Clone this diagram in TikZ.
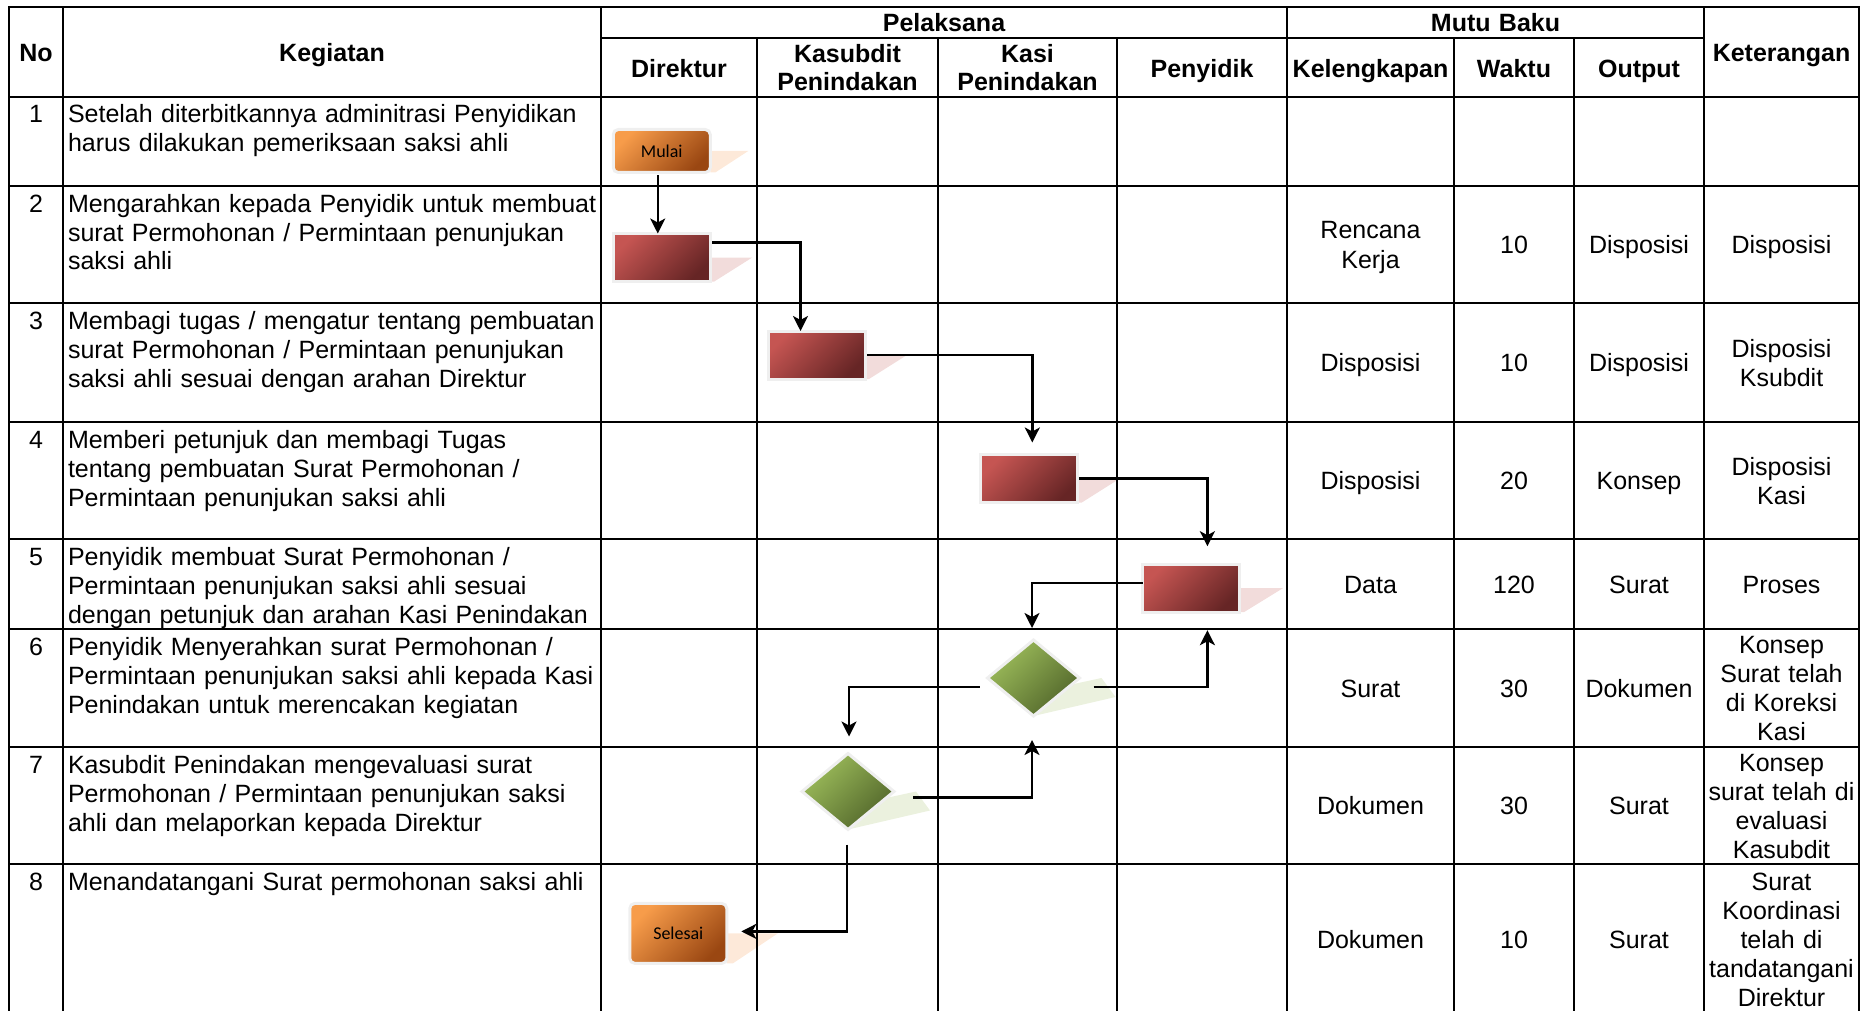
\documentclass[tikz,border=0pt]{standalone}
\usepackage{fontspec}
\setmainfont{Liberation Sans}
\newfontfamily\calibfont{Carlito}
\usetikzlibrary{shapes.geometric,arrows.meta,calc,backgrounds}
\definecolor{orL}{HTML}{F79C4A}
\definecolor{orD}{HTML}{9A4712}
\definecolor{rdL}{HTML}{C55552}
\definecolor{rdD}{HTML}{662525}
\definecolor{grL}{HTML}{9DBD5B}
\definecolor{grD}{HTML}{51652A}
\definecolor{shOr}{HTML}{FDE9D9}
\definecolor{shRd}{HTML}{F2DCDB}
\definecolor{shGr}{HTML}{EBF1DE}
\definecolor{rim}{HTML}{EFEFEF}
\begin{document}
\begin{tikzpicture}[x=1pt,y=-1pt,
  grid/.style={line width=2.2pt},
  body/.style={font=\fontsize{25}{29}\selectfont, inner sep=0pt},
  head/.style={font=\bfseries\fontsize{25}{27.5}\selectfont, inner sep=0pt,
    anchor=base, text width=170pt, align=center},
  cell/.style={body, anchor=base, text width=150pt, align=center},
  task/.style={body, anchor=base west, text width=540pt, align=left},
  num/.style={body, anchor=base},
  termbox/.style={rectangle, rounded corners=5pt, draw=rim, line width=3pt,
    top color=orL, bottom color=orD, shading angle=45, minimum width=97pt,
    inner sep=0pt, font=\calibfont\fontsize{18}{20}\selectfont},
  procbox/.style={rectangle, draw=rim, line width=3pt, top color=rdL,
    bottom color=rdD, shading angle=45, minimum width=97pt,
    minimum height=48pt, inner sep=0pt},
  decbox/.style={diamond, draw=rim, line width=3pt, top color=grL,
    bottom color=grD, shading angle=45, minimum width=92pt,
    minimum height=76pt, inner sep=0pt},
  arr/.style={line width=2.4pt, -{Stealth[length=15pt,width=15pt,inset=4pt]}},
  outer sep=0pt]
\useasboundingbox (0,0) rectangle (1871,1011);

% ---------- table grid ----------
\draw[grid] (9,1011) -- (9,7) -- (1859,7) -- (1859,1011);
\foreach \yy in {97,186,303,422,539,629,747,864}
  \draw[grid] (9,\yy) -- (1859,\yy);
\draw[grid] (601,38) -- (1704,38);
\foreach \xx in {63,601,1287,1704}
  \draw[grid] (\xx,7) -- (\xx,1011);
\foreach \xx in {757,938,1117,1454,1574}
  \draw[grid] (\xx,38) -- (\xx,1011);

% ---------- header ----------
\node[head] (hNo) at (36,61.5) {No};
\node[head] (hKeg) at (332,61.5) {Kegiatan};
\node[head] (hPel) at (944,31.5) {Pelaksana};
\node[head] (hMutu) at (1495.5,31.5) {Mutu Baku};
\node[head] (hKet) at (1781.5,61.5) {Keterangan};
\node[head] (hDir) at (679,77.5) {Direktur};
\node[head] (hKsb) at (847.5,62.7) {Kasubdit\\Penindakan};
\node[head] (hKasi) at (1027.5,62.7) {Kasi\\Penindakan};
\node[head] (hPen) at (1202,77.5) {Penyidik};
\node[head] (hKel) at (1370.5,77.5) {Kelengkapan};
\node[head] (hWak) at (1514,77.5) {Waktu};
\node[head] (hOut) at (1639,77.5) {Output};

% ---------- numbers and activities ----------
\node[num] (n1) at (36,123) {1};
\node[task] (a1) at (68,123) {Setelah diterbitkannya adminitrasi Penyidikan\\harus dilakukan pemeriksaan saksi ahli};
\node[num] (n2) at (36,212) {2};
\node[task] (a2) at (68,212) {Mengarahkan kepada Penyidik untuk membuat\\surat Permohonan / Permintaan penunjukan\\saksi ahli};
\node[num] (n3) at (36,329) {3};
\node[task] (a3) at (68,329) {Membagi tugas / mengatur tentang pembuatan\\surat Permohonan / Permintaan penunjukan\\saksi ahli sesuai dengan arahan Direktur};
\node[num] (n4) at (36,448) {4};
\node[task] (a4) at (68,448) {Memberi petunjuk dan membagi Tugas\\tentang pembuatan Surat Permohonan /\\Permintaan penunjukan saksi ahli};
\node[num] (n5) at (36,565) {5};
\node[task] (a5) at (68,565) {Penyidik membuat Surat Permohonan /\\Permintaan penunjukan saksi ahli sesuai\\dengan petunjuk dan arahan Kasi Penindakan};
\node[num] (n6) at (36,655) {6};
\node[task] (a6) at (68,655) {Penyidik Menyerahkan surat Permohonan /\\Permintaan penunjukan saksi ahli kepada Kasi\\Penindakan untuk merencakan kegiatan};
\node[num] (n7) at (36,773) {7};
\node[task] (a7) at (68,773) {Kasubdit Penindakan mengevaluasi surat\\Permohonan / Permintaan penunjukan saksi\\ahli dan melaporkan kepada Direktur};
\node[num] (n8) at (36,890) {8};
\node[task] (a8) at (68,890) {Menandatangani Surat permohonan saksi ahli};

% ---------- mutu baku & keterangan ----------
\node[cell] (k2) at (1370.5,239) {Rencana\\Kerja};
\node[cell] (w2) at (1514,253.5) {10};
\node[cell] (o2) at (1639,253.5) {Disposisi};
\node[cell] (t2) at (1781.5,253.5) {Disposisi};

\node[cell] (k3) at (1370.5,371.5) {Disposisi};
\node[cell] (w3) at (1514,371.5) {10};
\node[cell] (o3) at (1639,371.5) {Disposisi};
\node[cell] (t3) at (1781.5,357) {Disposisi\\Ksubdit};

\node[cell] (k4) at (1370.5,489.5) {Disposisi};
\node[cell] (w4) at (1514,489.5) {20};
\node[cell] (o4) at (1639,489.5) {Konsep};
\node[cell] (t4) at (1781.5,475) {Disposisi\\Kasi};

\node[cell] (k5) at (1370.5,593) {Data};
\node[cell] (w5) at (1514,593) {120};
\node[cell] (o5) at (1639,593) {Surat};
\node[cell] (t5) at (1781.5,593) {Proses};

\node[cell] (k6) at (1370.5,697) {Surat};
\node[cell] (w6) at (1514,697) {30};
\node[cell] (o6) at (1639,697) {Dokumen};
\node[cell] (t6) at (1781.5,653.5) {Konsep\\Surat telah\\di Koreksi\\Kasi};

\node[cell] (k7) at (1370.5,814.5) {Dokumen};
\node[cell] (w7) at (1514,814.5) {30};
\node[cell] (o7) at (1639,814.5) {Surat};
\node[cell] (t7) at (1781.5,771) {Konsep\\surat telah di\\evaluasi\\Kasubdit};

\node[cell] (k8) at (1370.5,948) {Dokumen};
\node[cell] (w8) at (1514,948) {10};
\node[cell] (o8) at (1639,948) {Surat};
\node[cell] (t8) at (1781.5,890) {Surat\\Koordinasi\\telah di\\tandatangani\\Direktur};

% ---------- flow shapes ----------
\node[termbox, minimum height=43pt] (mulai) at (661.75,151) {Mulai};
\node[procbox] (r2) at (661.75,257.5) {};
\node[procbox] (r3) at (816.5,355) {};
\node[procbox] (r4) at (1029.3,478.5) {};
\node[procbox] (r5) at (1191.4,588.2) {};
\node[decbox] (d6) at (1033.5,678) {};
\node[decbox] (d7) at (848,791.5) {};
\node[termbox, minimum height=60pt] (selesai) at (678.3,933.4) {Selesai};

% ---------- shadows ----------
\begin{pgfonlayer}{background}
\fill[shOr] (mulai.east) -- ++(38,0) -- ([xshift=5pt]mulai.south east) -- (mulai.south east) -- cycle;
\fill[shRd] (r2.east) -- ++(42,0) -- ([xshift=4pt]r2.south east) -- (r2.south east) -- cycle;
\fill[shRd] (r3.east) -- ++(42,0) -- ([xshift=4pt]r3.south east) -- (r3.south east) -- cycle;
\fill[shRd] (r4.east) -- ++(42,0) -- ([xshift=4pt]r4.south east) -- (r4.south east) -- cycle;
\fill[shRd] (r5.east) -- ++(43,0) -- ([xshift=4pt]r5.south east) -- (r5.south east) -- cycle;
\fill[shOr] (selesai.east) -- ++(51,0) -- ([xshift=6pt]selesai.south east) -- (selesai.south east) -- cycle;
\fill[shGr] (d6.south) -- ($(d6.south)+(82,-19)$) -- ($(d6.east)+(22,0)$) -- ($(d6.east)+(-15,8)$) -- cycle;
\fill[shGr] (d7.south) -- ($(d7.south)+(82,-19)$) -- ($(d7.east)+(22,0)$) -- ($(d7.east)+(-15,8)$) -- cycle;
\end{pgfonlayer}

% ---------- connectors ----------
\draw[arr] ([xshift=-4pt,yshift=-3pt]mulai.south) -- ([xshift=-4pt]r2.north);
\draw[arr] ([xshift=2pt,yshift=15pt]r2.east) -| ([xshift=-16pt]r3.north);
\draw[arr] ([xshift=2pt]r3.east) -| ([xshift=3pt,yshift=12pt]r4.north);
\draw[arr] ([xshift=1pt]r4.east) -| ([xshift=16pt,yshift=18pt]r5.north);
\draw[arr] ([yshift=5.5pt]r5.west) -| ([xshift=-1.5pt,yshift=12pt]d6.north);
\draw[arr] ([xshift=14pt,yshift=-9pt]d6.east) -| ([xshift=16pt,yshift=-18pt]r5.south);
\draw[arr] ([xshift=-8pt,yshift=-9pt]d6.west) -| ([xshift=1pt,yshift=17pt]d7.north);
\draw[arr] ([xshift=19pt,yshift=-6pt]d7.east) -| ([xshift=-1.5pt,yshift=-24pt]d6.south);
\draw[arr] ([xshift=-1pt,yshift=-15pt]d7.south) |- ([xshift=14.5pt,yshift=2pt]selesai.east);
\end{tikzpicture}
\end{document}
